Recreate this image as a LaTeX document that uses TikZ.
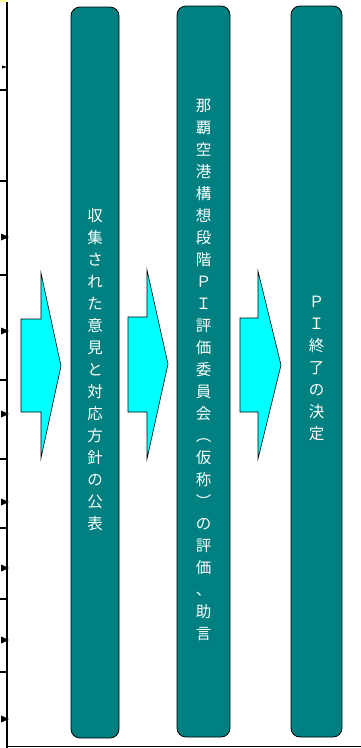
\documentclass[tikz,border=0pt]{standalone}
\usepackage{fontspec}
\newfontfamily\cjk{Noto Sans CJK JP}
\definecolor{tealc}{HTML}{008080}
\definecolor{cyanc}{HTML}{00FFFF}
\definecolor{yel}{HTML}{FFFF99}
\begin{document}
\begin{tikzpicture}[x=1pt,y=-1pt,
  stage/.style={draw=black, line width=0.8pt, fill=tealc, rounded corners=9pt, inner sep=0pt},
  vtext/.style={text=white, align=center, font=\cjk\fontsize{15.5}{22}\selectfont, inner sep=0pt},
  bigarrow/.style={draw=black, line width=0.6pt, fill=cyanc},
  tick/.style={line width=1.2pt},
  tip/.style={fill=black}]
\useasboundingbox (0,0) rectangle (361,748);
% left ruler
\fill[yel] (0,0) rectangle (7,2);
\draw[line width=1.5pt] (7,2) -- (7,748);
\foreach \y in {90,181,275,380,459,528,599,672} \draw[tick] (0,\y) -- (7,\y);
\foreach \y in {237,331,414,502,568,640,719} \fill[tip] (1,\y-3.5) -- (9,\y) -- (1,\y+3.5) -- cycle;
\fill[tip] (2,65.5) -- (7,67) -- (2,68.5) -- cycle;
\draw[line width=1.5pt] (7,746.5) -- (361,746.5);
% stages
\node[stage, minimum width=48pt, minimum height=731pt] (s1) at (95,372.5) {};
\node[stage, minimum width=53pt, minimum height=731pt] (s2) at (203.5,371.5) {};
\node[stage, minimum width=51pt, minimum height=731pt] (s3) at (316.5,371.5) {};
\node[vtext] (t1) at (95,370) {収\\集\\さ\\れ\\た\\意\\見\\と\\対\\応\\方\\針\\の\\公\\表};
\node[vtext] (t2) at (203.5,370) {那\\覇\\空\\港\\構\\想\\段\\階\\Ｐ\\Ｉ\\評\\価\\委\\員\\会\\︵\\仮\\称\\︶\\の\\評\\価\\、\\助\\言};
\node[vtext] (t3) at (316.5,368) {Ｐ\\Ｉ\\終\\了\\の\\決\\定};
% arrows
\draw[bigarrow] (21,319) -- (41,319) -- (41,273) -- (61,366) -- (41,458) -- (41,412) -- (21,412) -- cycle;
\draw[bigarrow] (128,317) -- (147,317) -- (147,270) -- (168,364) -- (147,459) -- (147,412) -- (128,412) -- cycle;
\draw[bigarrow] (240,318) -- (258,318) -- (258,271) -- (281,365) -- (258,459) -- (258,412) -- (240,412) -- cycle;
\end{tikzpicture}
\end{document}
